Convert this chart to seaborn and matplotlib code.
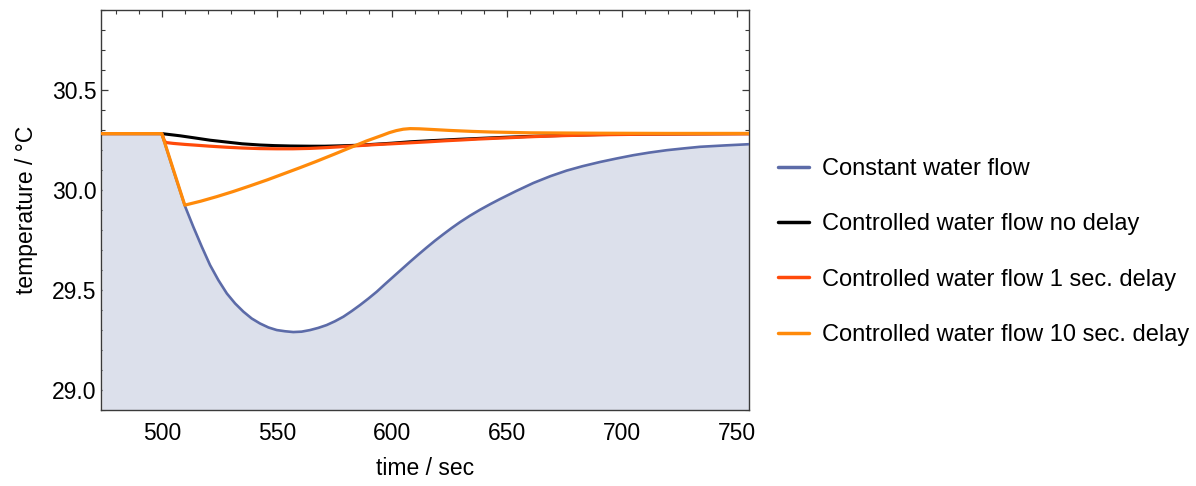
import numpy as np
import pandas as pd
import matplotlib
matplotlib.use("Agg")
import matplotlib.pyplot as plt
import seaborn as sns
from matplotlib.ticker import MultipleLocator

# ---- data ----
t_const = [474, 500, 505, 510.1, 513.7, 517.4, 521, 524.6, 528.3, 531.9, 535.5, 539.1,
           542.7, 546.4, 550, 553.6, 557.2, 560.8, 564.5, 568.1, 571.7, 575.3, 579,
           582.6, 586.2, 589.9, 593.5, 597.1, 600.7, 604.4, 608, 611.6, 615.2, 618.8,
           622.4, 626, 629.7, 634, 638.4, 643, 647, 654, 661.6, 669, 676.1, 683, 690.6,
           698, 705.1, 712, 719.6, 727, 734.1, 745, 755.5]
T_const = [30.283, 30.283, 30.100, 29.920, 29.817, 29.717, 29.625, 29.550, 29.483,
           29.433, 29.392, 29.358, 29.333, 29.313, 29.300, 29.294, 29.290, 29.292,
           29.300, 29.311, 29.325, 29.344, 29.367, 29.395, 29.425, 29.458, 29.492,
           29.530, 29.567, 29.605, 29.642, 29.678, 29.713, 29.747, 29.779, 29.810,
           29.840, 29.872, 29.902, 29.931, 29.955, 29.995, 30.036, 30.070, 30.098,
           30.120, 30.141, 30.159, 30.175, 30.188, 30.200, 30.209, 30.217, 30.224,
           30.230]

t_nodelay = [474, 500, 508, 514, 521, 528, 535, 542.7, 549, 556, 564.5, 571, 578, 586,
             593, 600, 608, 616, 623, 630, 638, 650, 662, 675, 690, 710, 730, 755.5]
T_nodelay = [30.283, 30.283, 30.272, 30.262, 30.250, 30.241, 30.232, 30.226, 30.223,
             30.221, 30.220, 30.220, 30.222, 30.225, 30.230, 30.235, 30.242, 30.247,
             30.251, 30.255, 30.259, 30.265, 30.270, 30.274, 30.278, 30.281, 30.282,
             30.283]

t_delay1 = [474, 500, 501.2, 502, 505, 510, 515, 521, 528, 535, 542.7, 550, 557,
            564.5, 571.7, 579, 586, 593, 600, 608, 616, 623, 630, 638, 650, 662, 675,
            690, 710, 730, 755.5]
T_delay1 = [30.283, 30.283, 30.245, 30.238, 30.234, 30.229, 30.225, 30.220, 30.215,
            30.211, 30.208, 30.207, 30.207, 30.209, 30.213, 30.218, 30.223, 30.228,
            30.232, 30.237, 30.242, 30.247, 30.251, 30.256, 30.262, 30.268, 30.273,
            30.277, 30.280, 30.281, 30.282]

t_delay10 = [474, 500, 510, 517, 524, 531, 538, 546, 553, 560, 567, 575, 582, 589,
             596, 599, 602, 605, 608, 612, 617, 625, 635, 643, 660, 690, 720, 755.5]
T_delay10 = [30.283, 30.283, 29.925, 29.945, 29.968, 29.993, 30.020, 30.052, 30.082,
             30.112, 30.143, 30.180, 30.213, 30.246, 30.275, 30.288, 30.298, 30.305,
             30.308, 30.307, 30.304, 30.299, 30.294, 30.291, 30.287, 30.285, 30.284,
             30.284]

labels = ["Constant water flow", "Controlled water flow no delay",
          "Controlled water flow 1 sec. delay", "Controlled water flow 10 sec. delay"]
colors = ["#5C6BA8", "#000000", "#FF4A0A", "#FF8A0A"]

x_ticks = [500, 550, 600, 650, 700, 750]
y_ticks = [29.0, 29.5, 30.0, 30.5]

# ---- styling ----
sns.set_style("ticks")
plt.rcParams["font.family"] = ["Liberation Sans", "DejaVu Sans"]
plt.rcParams["text.color"] = "black"
plt.rcParams["axes.labelcolor"] = "black"
FS = 16.5
FS_LEG = 17

fig = plt.figure(figsize=(11.96, 4.86), dpi=100)
ax = fig.add_axes([101.3 / 1196, 1 - 410 / 486, (749.3 - 101.3) / 1196, (410 - 10.3) / 486])

series = [(t_const, T_const), (t_nodelay, T_nodelay), (t_delay1, T_delay1), (t_delay10, T_delay10)]
lws = [1.9, 2.2, 2.3, 2.3]

ax.fill_between(t_const, T_const, 28.0, color="#DCE0EB", lw=0, zorder=1)
for (tx, ty), lab, col, lw in zip(series, labels, colors, lws):
    df = pd.DataFrame({"t": tx, "T": ty})
    sns.lineplot(data=df, x="t", y="T", ax=ax, color=col, lw=lw, label=lab,
                 sort=False, zorder=3)

ax.set_xlim(473.7, 755.5)
ax.set_ylim(28.9, 30.9)
ax.set_xticks(x_ticks)
ax.set_xticklabels([str(v) for v in x_ticks])
ax.set_yticks(y_ticks)
ax.set_yticklabels([f"{v:.1f}" for v in y_ticks])
ax.xaxis.set_minor_locator(MultipleLocator(10))
ax.yaxis.set_minor_locator(MultipleLocator(0.1))

frame_col = "#3A3A3A"
for s in ax.spines.values():
    s.set_color(frame_col)
    s.set_linewidth(1.0)
ax.tick_params(which="both", direction="in", top=True, right=True, color=frame_col,
               labelcolor="black", labelsize=FS)
ax.tick_params(which="major", length=4.8, width=0.9)
ax.tick_params(which="minor", length=3.0, width=0.8)
ax.tick_params(axis="x", which="major", pad=8.5)
ax.tick_params(axis="y", which="major", pad=3.3)

ax.set_xlabel("time / sec", fontsize=FS, labelpad=9, color="black")
ax.set_ylabel("temperature / \u00b0C", fontsize=FS, labelpad=10, color="black")

leg = ax.legend(loc="center left", bbox_to_anchor=(778 / 1196, 1 - 252 / 486),
                bbox_transform=fig.transFigure, frameon=False, fontsize=FS_LEG,
                borderaxespad=0, borderpad=0, handlelength=1.3, handletextpad=0.55,
                labelspacing=1.41)
for h in leg.get_lines():
    h.set_linewidth(2.5)
for txt in leg.get_texts():
    txt.set_color("black")

fig.savefig("out.png", dpi=100)
